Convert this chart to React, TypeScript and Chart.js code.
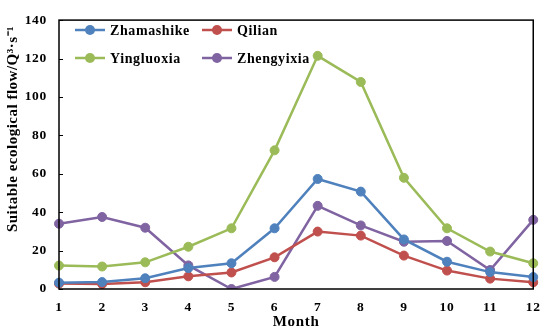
import React, { useEffect, useRef } from "react";
import { Chart, registerables } from "chart.js";

Chart.register(...registerables);

const months = ["1", "2", "3", "4", "5", "6", "7", "8", "9", "10", "11", "12"];
const zhamashike = [3.3, 3.6, 5.6, 10.9, 13.4, 31.6, 57.3, 50.7, 25.8, 14.2, 8.8, 6.2];
const qilian = [2.8, 2.6, 3.5, 6.6, 8.6, 16.5, 29.9, 27.8, 17.4, 9.6, 5.4, 3.5];
const yingluoxia = [12.2, 11.7, 13.9, 22, 31.6, 72.2, 121.4, 107.8, 57.9, 31.6, 19.5, 13.4];
const zhengyixia = [34, 37.5, 31.9, 12.3, 0, 6.3, 43.3, 33.1, 24.6, 25, 9.9, 36];
const seriesNames = ["Zhamashike", "Qilian", "Yingluoxia", "Zhengyixia"];
const seriesColors = ["#4F81BD", "#C0504D", "#9BBB59", "#8064A2"];

const FONT = "'Liberation Serif', 'Times New Roman', serif";

const spacingPlugin = {
  id: "spacing",
  beforeDraw(chart: any) {
    (chart.ctx as any).letterSpacing = "0.7px";
  },
};

const framePlugin = {
  id: "frame",
  afterDraw(chart: any) {
    const { ctx, chartArea } = chart;
    const { left, right, top, bottom } = chartArea;
    ctx.save();
    ctx.strokeStyle = "#000";
    ctx.lineWidth = 1.5;
    ctx.strokeRect(left, top, right - left, bottom - top);
    const y = chart.scales.y;
    ctx.lineWidth = 1;
    y.ticks.forEach((t: any) => {
      const py = Math.round(y.getPixelForValue(t.value)) + 0.5;
      ctx.beginPath();
      ctx.moveTo(left, py);
      ctx.lineTo(left + 4, py);
      ctx.stroke();
    });
    ctx.fillStyle = "#000";
    ctx.font = `bold 15px ${FONT}`;
    (ctx as any).letterSpacing = "0.5px";
    ctx.translate(13, 129);
    ctx.rotate(-Math.PI / 2);
    ctx.textAlign = "center";
    ctx.textBaseline = "middle";
    ctx.fillText("Suitable ecological flow/Q\u00B3\u00B7s\u207B\u00B9", 0, 0);
    ctx.restore();

    ctx.save();
    ctx.font = `bold 14px ${FONT}`;
    (ctx as any).letterSpacing = "0.6px";
    ctx.textBaseline = "middle";
    ctx.textAlign = "left";
    const cols = [75, 202];
    const rows = [30, 58];
    chart.data.datasets.forEach((ds: any, i: number) => {
      const x0 = cols[i % 2];
      const yy = rows[Math.floor(i / 2)];
      ctx.strokeStyle = ds.borderColor;
      ctx.lineWidth = 2.5;
      ctx.beginPath();
      ctx.moveTo(x0, yy);
      ctx.lineTo(x0 + 30, yy);
      ctx.stroke();
      ctx.fillStyle = ds.borderColor;
      ctx.beginPath();
      ctx.arc(x0 + 15, yy, 5, 0, Math.PI * 2);
      ctx.fill();
      ctx.fillStyle = "#000";
      ctx.fillText(ds.label, x0 + 35, yy + 1);
    });
    ctx.restore();
  },
};

export default function App() {
  const ref = useRef<HTMLCanvasElement>(null);
  useEffect(() => {
    const values = [zhamashike, qilian, yingluoxia, zhengyixia];
    const chart = new Chart(ref.current!, {
      type: "line",
      data: {
        labels: months,
        datasets: values.map((v, i) => ({
          label: seriesNames[i],
          data: v,
          borderColor: seriesColors[i],
          backgroundColor: seriesColors[i],
          pointBackgroundColor: seriesColors[i],
          pointBorderColor: seriesColors[i],
          pointRadius: 4.5,
          pointBorderWidth: 1,
          borderWidth: 2.5,
          tension: 0,
        })),
      },
      options: {
        animation: false,
        responsive: false,
        maintainAspectRatio: false,
        layout: { padding: { left: 0, right: 12, top: 8, bottom: 0 } },
        plugins: { legend: { display: false }, tooltip: { enabled: false } },
        scales: {
          x: {
            offset: false,
            grid: { display: false, drawTicks: false },
            border: { display: false },
            ticks: { color: "#000", font: { family: FONT, size: 13.5, weight: "bold" }, padding: 10, maxRotation: 0, autoSkip: false },
            title: { display: true, text: "Month", color: "#000", font: { family: FONT, size: 15, weight: "bold" }, padding: { top: 0, bottom: 1 } },
            afterFit: (s: any) => { s.height = 43; },
          },
          y: {
            min: 0,
            max: 140,
            grid: { display: false, drawTicks: false },
            border: { display: false },
            ticks: { stepSize: 20, color: "#000", font: { family: FONT, size: 13.5, weight: "bold" }, padding: 12 },
            afterFit: (s: any) => { s.width = 59; },
          },
        },
      },
      plugins: [spacingPlugin, framePlugin],
    });
    return () => chart.destroy();
  }, []);
  return (
    <div style={{ position: "fixed", left: 0, top: 0, width: 550, height: 332, background: "#fff" }}>
      <canvas ref={ref} width={550} height={332} />
    </div>
  );
}
